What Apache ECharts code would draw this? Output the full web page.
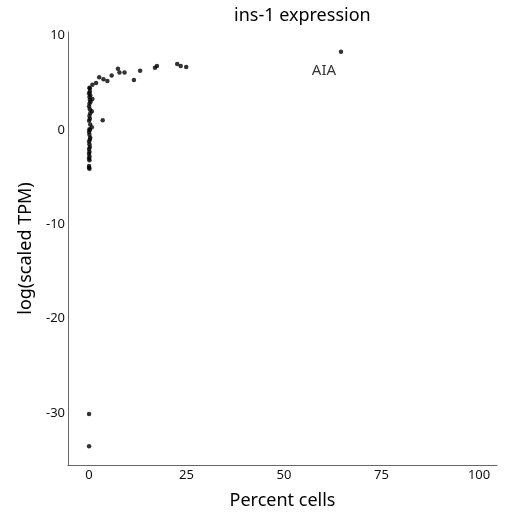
<!DOCTYPE html>
<html>
<head>
<meta charset="utf-8">
<script src="https://cdn.jsdelivr.net/npm/echarts@6/dist/echarts.min.js"></script>
<style>
  html, body { margin: 0; padding: 0; background: #fff; }
  #chart { width: 506px; height: 515px; }
</style>
</head>
<body>
<div id="chart"></div>
<script>
// percent of cells expressing vs log(scaled TPM)
const percentCells = [
  64.6, 22.6, 23.5, 24.9, 17.4, 16.9, 13.1, 11.5, 7.4, 7.8, 9.1, 5.8, 4.7, 3.7, 2.6, 1.8,
  0.85, 0.2, 0.85, 3.5,
  0.1, 0.2, 0.0, 0.3, 0.1, 0.2, 0.4, 0.1, 0.0, 0.2, 0.7, 0.3, 0.1, 0.2, 0.0, 0.7, 0.3,
  0.1, 0.2, 0.0, 0.1, 0.3, 0.2, 0.0, 0.1, 0.2, 0.0, 0.1, 0.0, 0.1, 0.0, 0.1, 0.0,
  0.0, 0.0, 0.0, 0.1
];
const logTpm = [
  8.3, 7.0, 6.8, 6.7, 6.8, 6.6, 6.3, 5.3, 6.5, 6.1, 6.1, 5.8, 5.2, 5.4, 5.6, 5.0,
  4.8, 4.4, 3.3, 1.05,
  4.5, 4.1, 3.9, 3.7, 3.5, 3.2, 3.0, 2.8, 2.5, 2.2, 2.0, 1.8, 1.5, 1.2, 1.0, 0.3, 0.6,
  0.1, 0.0, -0.2, -0.5, -0.8, -1.0, -1.2, -1.5, -1.8, -2.0, -2.3, -2.5, -2.8, -3.0, -3.2, -3.8,
  -30.1, -33.5, -4.0, -4.1
];
const pointLabels = { 0: "AIA" };
const xTicks = [0, 25, 50, 75, 100];
const yTicks = [10, 0, -10, -20, -30];

const myChart = echarts.init(document.getElementById("chart"));
const font = "Noto Sans";

const points = percentCells.map((x, i) => {
  const item = { value: [x, logTpm[i]] };
  if (pointLabels[i]) {
    item.label = {
      show: true,
      formatter: pointLabels[i],
      position: "bottom",
      offset: [-17, 4],
      fontSize: 15,
      color: "#000",
      fontFamily: font,
    };
  }
  return item;
});

const options = {
  animation: false,
  title: {
    text: "ins-1 expression",
    left: 229,
    top: 2,
    textStyle: { fontFamily: font, fontSize: 18, fontWeight: "normal", color: "#000" },
  },
  grid: { left: 68, right: 9, top: 32, bottom: 49 },
  xAxis: {
    type: "value",
    min: -5.4,
    max: 104.6,
    name: "Percent cells",
    nameLocation: "middle",
    nameGap: 27,
    nameTextStyle: { fontFamily: font, fontSize: 18, color: "#000" },
    axisLine: { show: true, onZero: false, lineStyle: { color: "#666", width: 1 } },
    axisTick: { show: false },
    splitLine: { show: false },
    axisLabel: {
      customValues: xTicks,
      fontFamily: font,
      fontSize: 13,
      color: "#111",
      margin: 4,
    },
  },
  yAxis: {
    type: "value",
    min: -35.5,
    max: 10.4,
    name: "log(scaled TPM)",
    nameLocation: "middle",
    nameGap: 30,
    nameTextStyle: { fontFamily: font, fontSize: 18, color: "#000" },
    axisLine: { show: true, onZero: false, lineStyle: { color: "#666", width: 1 } },
    axisTick: { show: false },
    splitLine: { show: false },
    axisLabel: {
      customValues: yTicks,
      fontFamily: font,
      fontSize: 13,
      color: "#111",
      margin: 3,
    },
  },
  series: [
    {
      type: "scatter",
      data: points,
      symbolSize: 4.5,
      itemStyle: { color: "#000" },
    },
  ],
};

myChart.setOption(options);
</script>
</body>
</html>
